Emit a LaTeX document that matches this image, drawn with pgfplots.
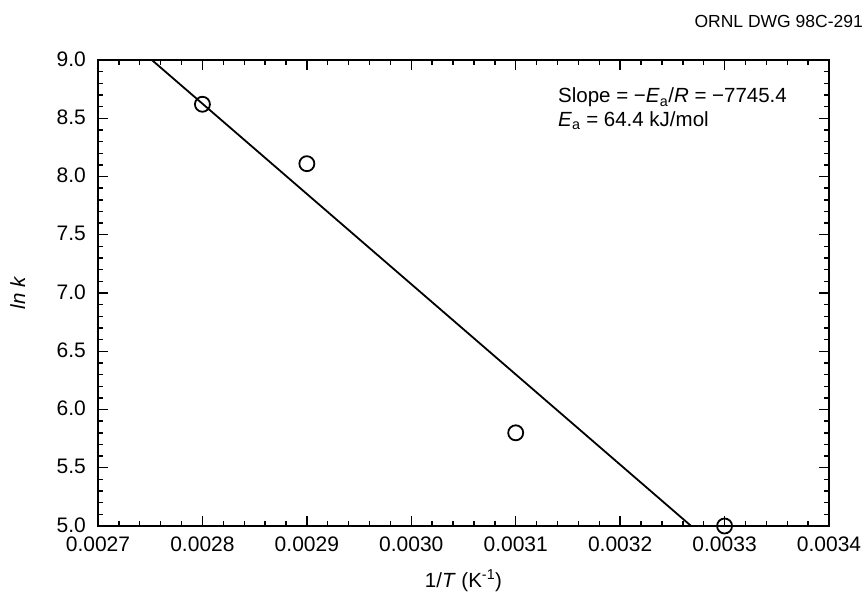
\documentclass[border=0pt]{standalone}
\usepackage{pgfplots}
\pgfplotsset{compat=1.18}
\usepackage{fontspec}
\setmainfont{Liberation Sans}

\begin{document}
\fontsize{20}{23}\selectfont
\begin{tikzpicture}
\path[use as bounding box] (-98pt,-66pt) rectangle (769pt,526pt);
\begin{axis}[
  at={(0pt,0pt)}, anchor=south west,
  scale only axis,
  width=731pt, height=466pt,
  xmin=0.0027, xmax=0.0034,
  ymin=5.0, ymax=9.0,
  xtick={0.0027,0.0028,0.0029,0.0030,0.0031,0.0032,0.0033,0.0034},
  ytick={5.0,5.5,6.0,6.5,7.0,7.5,8.0,8.5,9.0},
  minor x tick num=4,
  minor y tick num=4,
  tick align=inside,
  major tick length=10pt,
  minor tick length=5pt,
  every tick/.style={black, line width=1.4pt},
  axis line style={line width=2.6pt},
  scaled x ticks=false,
  /pgf/number format/assume math mode=true,
  xticklabel style={/pgf/number format/.cd, fixed, fixed zerofill, precision=4, /tikz/.cd, font=\fontsize{21}{24}\selectfont, inner sep=1pt, yshift=-10pt},
  yticklabel style={/pgf/number format/.cd, fixed, fixed zerofill, precision=1, /tikz/.cd, font=\fontsize{21}{24}\selectfont, inner sep=1pt, xshift=-11pt, yshift=1pt},
  xlabel={1/\textit{T} (K\textsuperscript{-1})},
  ylabel={\textit{ln k}},
  xlabel style={at={(axis description cs:0.5,-0.117)}, anchor=center, font=\fontsize{20.5}{23}\selectfont},
  ylabel style={at={(axis description cs:-0.11,0.5)}, anchor=center, font=\fontsize{20.5}{23}\selectfont},
  clip=false,
]
% least-squares fit, slope -7745.4
\addplot[black, line width=1.8pt] coordinates {(0.0027516,9.0) (0.0032680,5.0)};
% measured rate constants
\addplot[only marks, mark=o, mark size=7.5pt, mark options={line width=1.8pt, black}] coordinates {
  (0.0028,8.62)
  (0.0029,8.11)
  (0.0031,5.80)
  (0.0033,5.00)
};
\node[anchor=base west, inner sep=0pt, font=\fontsize{20.5}{23}\selectfont] at (axis cs:0.0031405,8.631)
  {Slope = −\textit{E}\textsubscript{a}/\textit{R} = −7745.4};
\node[anchor=base west, inner sep=0pt, font=\fontsize{20.5}{23}\selectfont] at (axis cs:0.0031405,8.433)
  {\textit{E}\textsubscript{a} = 64.4 kJ/mol};
\end{axis}
\node[anchor=base east, inner sep=0pt, font=\fontsize{17.5}{20}\selectfont] at (765pt,498pt) {ORNL DWG 98C-291};
\end{tikzpicture}
\end{document}
